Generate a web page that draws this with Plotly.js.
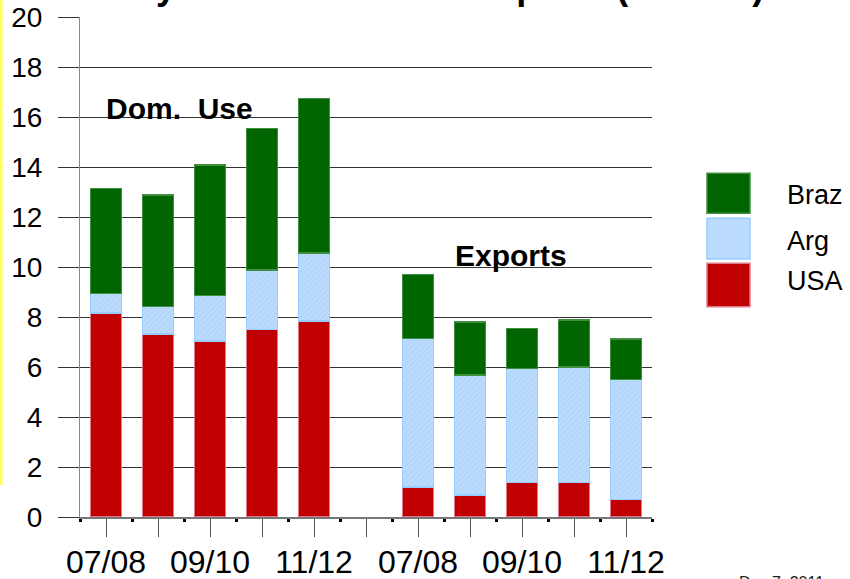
<!DOCTYPE html>
<html>
<head>
<meta charset="utf-8">
<script src="https://cdn.plot.ly/plotly-3.0.1.min.js"></script>
<style>html,body{margin:0;padding:0;background:#fff;}#chart{width:850px;height:579px;}</style>
</head>
<body>
<div id="chart"></div>
<script>
// ---- data ----
const seasons = ["07/08", "08/09", "09/10", "10/11", "11/12"];
const groupLabels = ["Dom. Use", "Exports"];
const seriesNames = ["USA", "Arg", "Braz"];

const usaDom  = [8.17, 7.32, 7.05, 7.50, 7.84];
const argDom  = [0.78, 1.10, 1.82, 2.38, 2.73];
const brazDom = [4.20, 4.46, 5.21, 5.67, 6.18];

const usaExp  = [1.21, 0.88, 1.39, 1.39, 0.71];
const argExp  = [5.94, 4.80, 4.56, 4.62, 4.80];
const brazExp = [2.56, 2.13, 1.60, 1.88, 1.61];

const titleText = "Soybean Meal Use &amp; Exports (mil. MT)";
const dateText = "Dec 7, 2011";

// ---- category positions (domestic block, one empty slot, export block) ----
const n = seasons.length;
const xDom = seasons.map((s, i) => i);
const xExp = seasons.map((s, i) => i + n + 1);
const allX = [...Array(2 * n + 1).keys()];
const tickText = allX.map(i => {
  if (i === n) return "";
  const k = i < n ? i : i - n - 1;
  return k % 2 === 0 ? seasons[k] : "";
});

const colors = {
  USA:  {fill: "#c00000", line: "#e07a8a"},
  Arg:  {fill: "#bbdcff", line: "#99ccff"},
  Braz: {fill: "#006400", line: "#3f8f3f"}
};
const valuesBy = {
  USA:  usaDom.concat(usaExp),
  Arg:  argDom.concat(argExp),
  Braz: brazDom.concat(brazExp)
};
const xs = xDom.concat(xExp);

const traces = seriesNames.map(name => {
  const t = {
    type: "bar",
    name: name,
    x: xs,
    y: valuesBy[name],
    width: 0.6,
    marker: {color: colors[name].fill, line: {color: colors[name].line, width: 1.5}},
    showlegend: false,
    hoverinfo: "skip"
  };
  if (name === "Arg") {
    t.marker.pattern = {shape: "/", fgcolor: "#acd2f7", bgcolor: "#bbdcff", size: 4, solidity: 0.25};
  }
  return t;
});

// ---- pixel helpers for decorations (plot area 80..652 x 17..517) ----
const PL = 80, PR = 652, PT = 17, PB = 517;
const px = x => (x - PL) / (PR - PL);
const py = y => (PB - y) / (PB - PT);

const legendOrder = ["Braz", "Arg", "USA"];
const legendBoxes = [[173.3, 213.3], [218.3, 259], [263.3, 306.7]];
const legendTextY = [195, 241.5, 281];

const shapes = [
  {type: "rect", xref: "paper", yref: "paper", x0: px(0), x1: px(2.5), y0: py(485), y1: py(0),
   fillcolor: "#ffff55", line: {width: 0}, layer: "above"}
];
const annotations = [
  {xref: "paper", yref: "paper", x: px(766), y: py(8.6), xanchor: "right", yanchor: "bottom",
   text: titleText, showarrow: false, font: {family: "Liberation Sans, Arial", size: 36, color: "#000", weight: "bold"}},
  {xref: "paper", yref: "paper", x: px(179.5), y: py(108), xanchor: "center", yanchor: "middle",
   text: groupLabels[0].replace(" ", "&nbsp; "), showarrow: false, font: {family: "Liberation Sans, Arial", size: 30, color: "#000", weight: "bold"}},
  {xref: "paper", yref: "paper", x: px(511), y: py(255.5), xanchor: "center", yanchor: "middle",
   text: groupLabels[1], showarrow: false, font: {family: "Liberation Sans, Arial", size: 30, color: "#000", weight: "bold"}},
  {xref: "paper", yref: "paper", x: px(737), y: py(572), xanchor: "left", yanchor: "top",
   text: dateText, showarrow: false, font: {family: "Liberation Sans, Arial", size: 16, color: "#222"}}
];
legendOrder.forEach((name, i) => {
  shapes.push({type: "rect", xref: "paper", yref: "paper",
    x0: px(707), x1: px(750), y0: py(legendBoxes[i][1]), y1: py(legendBoxes[i][0]),
    fillcolor: colors[name].fill, line: {color: colors[name].line, width: 1.5}});
  annotations.push({xref: "paper", yref: "paper", x: px(785), y: py(legendTextY[i]),
    xanchor: "left", yanchor: "middle", text: name, showarrow: false,
    font: {family: "Liberation Sans, Arial", size: 27, color: "#000"}});
});

const layout = {
  width: 850, height: 579,
  margin: {l: PL, r: 850 - PR, t: PT, b: 579 - PB, pad: 0},
  paper_bgcolor: "#ffffff", plot_bgcolor: "#ffffff",
  barmode: "stack",
  showlegend: false,
  font: {family: "Liberation Sans, Arial", color: "#000"},
  xaxis: {
    range: [-0.5, 2 * n + 0.5],
    tickmode: "array", tickvals: allX, ticktext: tickText,
    ticks: "outside", ticklen: 18, tickwidth: 1, tickcolor: "#555",
    tickfont: {size: 32, color: "#000"},
    ticklabelstandoff: -2,
    showline: true, linecolor: "#777", linewidth: 2,
    showgrid: false, zeroline: false, fixedrange: true,
    minor: {tick0: 0.5, dtick: 1, ticks: "outside", ticklen: 3, tickwidth: 3, tickcolor: "#000", showgrid: false}
  },
  yaxis: {
    range: [0, 20], dtick: 2, tick0: 0,
    ticks: "outside", ticklen: 21, tickwidth: 1, tickcolor: "#333",
    tickfont: {size: 28, color: "#000"},
    ticklabelstandoff: 10,
    showgrid: true, gridcolor: "#333", gridwidth: 1,
    showline: true, linecolor: "#888", linewidth: 1,
    zeroline: false, fixedrange: true
  },
  shapes: shapes,
  annotations: annotations
};

Plotly.newPlot("chart", traces, layout, {displayModeBar: false, staticPlot: true});
</script>
</body>
</html>
